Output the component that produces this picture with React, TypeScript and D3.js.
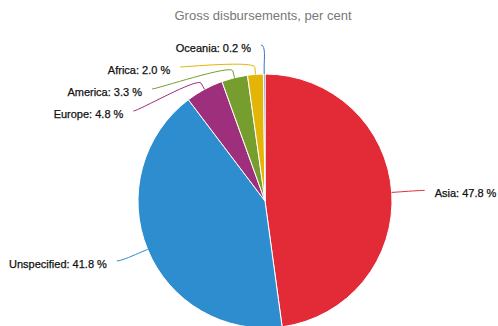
import React from "react";
import * as d3 from "d3";

const title = "Gross disbursements, per cent";
const categories = ["Asia", "Unspecified", "Europe", "America", "Africa", "Oceania"];
const values = [47.8, 41.8, 4.8, 3.3, 2.0, 0.2];
const colors = ["#e32b38", "#2d8dcf", "#9d2f7c", "#769e2f", "#e3b506", "#3477c0"];

const W = 498;
const H = 326;
const cx = 265;
const cy = 201;
const r = 127;
const labelDistance = 30;
const breakOffset = 7;
const spacing = 22;
const topLimit = 45;

export default function App() {
  const pie = d3.pie<number>().sort(null).value((d) => d)(values);
  const arc = d3.arc<d3.PieArcDatum<number>>().innerRadius(0).outerRadius(r);
  const R = r + labelDistance;

  const items = pie.map((p, i) => {
    const mid = (p.startAngle + p.endAngle) / 2;
    const sx = Math.sin(mid);
    const sy = -Math.cos(mid);
    const left = sx < 0;
    return {
      i,
      left,
      mid,
      px: cx + sx * r,
      py: cy + sy * r,
      bx: cx + sx * (r + breakOffset),
      by: cy + sy * (r + breakOffset),
      naturalY: cy + sy * R,
      y: cy + sy * R,
    };
  });

  [true, false].forEach((side) => {
    const group = items.filter((d) => d.left === side).sort((a, b) => a.naturalY - b.naturalY);
    let prev = -Infinity;
    group.forEach((d) => {
      const y = Math.max(d.naturalY, topLimit, prev + spacing);
      d.y = y;
      prev = y;
    });
  });

  const labels = items.map((d) => {
    const yForX = Math.abs(d.y - d.naturalY) < 2 ? d.naturalY : d.y;
    const dy = yForX - cy;
    const dx = Math.sqrt(Math.max(0, R * R - dy * dy));
    const lx = cx + (d.left ? -dx : dx) + (d.left ? -3 : 3);
    const ly = d.y;
    const c1x = lx + (d.left ? 5 : -5);
    const c1y = ly;
    const c2x = 2 * d.bx - d.px;
    const c2y = 2 * d.by - d.py;
    const path = `M${lx},${ly}C${c1x},${c1y} ${c2x},${c2y} ${d.bx},${d.by}L${d.px},${d.py}`;
    return { ...d, lx, ly, path };
  });

  return (
    <svg width={W} height={H} style={{ position: "absolute", left: 0, top: 0, fontFamily: "'Liberation Sans', Arial, sans-serif" }}>
      <rect width={W} height={H} fill="#fff" />
      <text x={263} y={20} textAnchor="middle" fontSize={13} fill="#777">
        {title}
      </text>
      <g transform={`translate(${cx},${cy})`}>
        {pie.map((p, i) => (
          <path key={i} d={arc(p) || ""} fill={colors[i]} stroke="#fff" strokeWidth={1} strokeLinejoin="round" />
        ))}
      </g>
      {labels.map((l) => (
        <g key={l.i}>
          <path d={l.path} fill="none" stroke={colors[l.i]} strokeWidth={1} />
          <text
            x={l.left ? l.lx - 10 : l.lx + 10}
            y={l.ly + 3}
            dy="0.35em"
            textAnchor={l.left ? "end" : "start"}
            fontSize={11}
            fill="#111"
            stroke="#111"
            strokeWidth={0.25}
          >
            {`${categories[l.i]}: ${values[l.i].toFixed(1)} %`}
          </text>
        </g>
      ))}
    </svg>
  );
}
